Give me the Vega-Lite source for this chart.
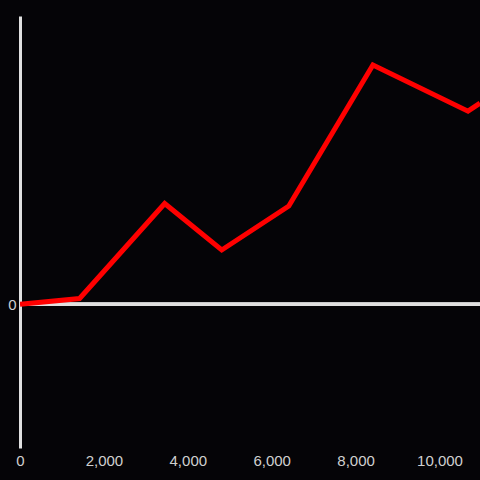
{
  "$schema": "https://vega.github.io/schema/vega-lite/v6.json",
  "width": 460,
  "height": 432,
  "autosize": {"type": "none"},
  "padding": {"left": 20, "top": 16, "right": 0, "bottom": 32},
  "background": "#050407",
  "config": {
    "view": {"stroke": null},
    "font": "Liberation Sans"
  },
  "data": {
    "values": [
      {"x": 0, "y": 0},
      {"x": 1420, "y": 5.7},
      {"x": 3449, "y": 100.7},
      {"x": 4809, "y": 54.2},
      {"x": 6408, "y": 98.2},
      {"x": 8413, "y": 239.2},
      {"x": 10680, "y": 193},
      {"x": 10966, "y": 201}
    ]
  },
  "layer": [
    {
      "mark": {"type": "rule", "color": "#e0e0e0", "strokeWidth": 3},
      "encoding": {"y": {"datum": 0, "type": "quantitative"}}
    },
    {
      "mark": {"type": "line", "color": "#ff0000", "strokeWidth": 5, "clip": true},
      "encoding": {
        "x": {
          "field": "x", "type": "quantitative",
          "scale": {"domain": [0, 10966], "nice": false, "zero": false},
          "axis": {"title": null, "domain": false, "grid": false, "ticks": false, "values": [0, 2000, 4000, 6000, 8000, 10000], "format": ",d", "labelPadding": 5, "labelFlush": false, "labelFontSize": 15, "labelColor": "#d0d0d0", "labelFont": "Liberation Sans"}
        },
        "y": {
          "field": "y", "type": "quantitative",
          "scale": {"domain": [-143.8, 288.2], "nice": false},
          "axis": {"title": null, "domain": true, "grid": false, "ticks": false, "domainColor": "#e0e0e0", "domainWidth": 3, "values": [0], "format": "d", "labelPadding": 4, "labelFontSize": 15, "labelColor": "#d0d0d0", "labelFont": "Liberation Sans"}
        }
      }
    }
  ]
}
